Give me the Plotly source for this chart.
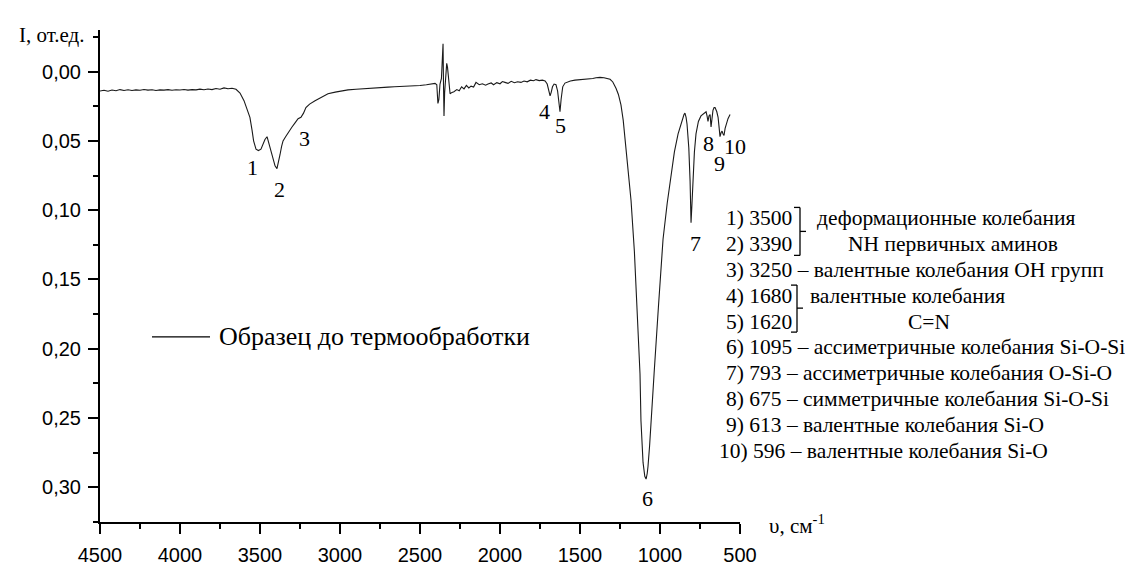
import plotly.graph_objects as go

# ---------------- data ----------------
wavenumber = [
    4500, 4475, 4450, 4425, 4400, 4375, 4350, 4325, 4300, 4275, 4250, 4225, 4200, 4175, 4150,
    4125, 4100, 4075, 4050, 4025, 4000, 3975, 3950, 3925, 3900, 3875, 3850, 3825, 3800, 3775,
    3750, 3725, 3700, 3675, 3650,
    3625, 3600, 3580, 3563, 3550, 3540, 3525, 3510, 3494, 3480, 3469, 3456, 3443, 3431, 3418,
    3406, 3394, 3385, 3375, 3365, 3356, 3340, 3325, 3300, 3281, 3262, 3244, 3228, 3213, 3190,
    3156, 3120, 3075, 3030, 2990, 2950, 2900, 2860, 2820, 2781, 2740, 2700, 2660, 2619, 2580,
    2540, 2500, 2460, 2425, 2406, 2395, 2388, 2382, 2375, 2366, 2360, 2356, 2353, 2350, 2346,
    2340, 2333, 2328, 2320, 2312, 2300, 2288, 2270, 2255, 2240, 2225, 2210, 2195, 2181, 2165,
    2150, 2130, 2110, 2090, 2075, 2055, 2040, 2020, 2000, 1985, 1969, 1950, 1930, 1910, 1890,
    1869, 1850, 1830, 1810, 1790, 1775, 1755, 1735, 1718, 1705, 1695, 1687, 1680, 1672, 1662,
    1650, 1640, 1630, 1625, 1618, 1608, 1594, 1580, 1560, 1531, 1500, 1475, 1450, 1420, 1400,
    1375, 1350, 1330, 1312, 1295, 1285, 1275, 1260, 1244, 1230, 1219, 1200, 1181, 1160, 1140,
    1125, 1119, 1106, 1095, 1087, 1080, 1075, 1065, 1056, 1037, 1010, 981, 955, 931, 910,
    887, 865, 850, 844, 837, 831, 820, 812, 806, 800, 794, 785, 775, 760, 744,
    725, 712, 706, 700, 694, 687, 681, 675, 669, 662, 656, 645, 637, 630, 625,
    618, 612, 606, 600, 593, 587, 575, 562,
]
intensity = [
    0.0140, 0.0135, 0.0142, 0.0133, 0.0138, 0.0130, 0.0136, 0.0131, 0.0137, 0.0132, 0.0135, 0.0129, 0.0134, 0.0131, 0.0136,
    0.0132, 0.0134, 0.0130, 0.0135, 0.0131, 0.0133, 0.0129, 0.0134, 0.0130, 0.0132, 0.0127, 0.0131, 0.0126, 0.0130, 0.0122,
    0.0127, 0.0118, 0.0124, 0.0120, 0.0128,
    0.0155, 0.0210, 0.0270, 0.0330, 0.0420, 0.0500, 0.0560, 0.0570, 0.0560, 0.0520, 0.0490, 0.0470, 0.0520, 0.0570, 0.0630,
    0.0680, 0.0700, 0.0660, 0.0600, 0.0540, 0.0500, 0.0470, 0.0440, 0.0400, 0.0370, 0.0340, 0.0330, 0.0300, 0.0260, 0.0235,
    0.0210, 0.0185, 0.0160, 0.0148, 0.0140, 0.0132, 0.0128, 0.0124, 0.0121, 0.0118, 0.0115, 0.0112, 0.0110, 0.0108, 0.0106,
    0.0103, 0.0100, 0.0095, 0.0090, 0.0085, 0.0095, 0.0230, 0.0200, 0.0090, 0.0050, -0.0150, -0.0200, 0.0100, 0.0320, 0.0150,
    0.0040, -0.0060, -0.0030, 0.0080, 0.0160, 0.0150, 0.0145, 0.0130, 0.0138, 0.0110, 0.0125, 0.0100, 0.0118, 0.0105, 0.0112,
    0.0078, 0.0095, 0.0088, 0.0098, 0.0090, 0.0082, 0.0095, 0.0080, 0.0088, 0.0072, 0.0078, 0.0085, 0.0070, 0.0080, 0.0074,
    0.0078, 0.0068, 0.0074, 0.0062, 0.0066, 0.0058, 0.0065, 0.0062, 0.0068, 0.0090, 0.0140, 0.0175, 0.0150, 0.0110, 0.0090,
    0.0095, 0.0140, 0.0250, 0.0290, 0.0200, 0.0110, 0.0083, 0.0075, 0.0068, 0.0062, 0.0060, 0.0058, 0.0055, 0.0050, 0.0045,
    0.0042, 0.0045, 0.0050, 0.0056, 0.0075, 0.0095, 0.0120, 0.0165, 0.0240, 0.0350, 0.0470, 0.0700, 0.0930, 0.1300, 0.1800,
    0.2180, 0.2520, 0.2820, 0.2920, 0.2940, 0.2900, 0.2850, 0.2700, 0.2520, 0.2180, 0.1700, 0.1210, 0.0950, 0.0750, 0.0580,
    0.0450, 0.0360, 0.0310, 0.0300, 0.0330, 0.0380, 0.0550, 0.0790, 0.1090, 0.0950, 0.0790, 0.0580, 0.0450, 0.0360, 0.0320,
    0.0300, 0.0290, 0.0320, 0.0360, 0.0320, 0.0310, 0.0400, 0.0340, 0.0280, 0.0260, 0.0260, 0.0290, 0.0330, 0.0410, 0.0470,
    0.0440, 0.0430, 0.0450, 0.0460, 0.0410, 0.0380, 0.0340, 0.0310,
]

series_name = "Образец до термообработки"

y_ticks = [0.00, 0.05, 0.10, 0.15, 0.20, 0.25, 0.30]
x_ticks = [4500, 4000, 3500, 3000, 2500, 2000, 1500, 1000, 500]

peak_labels = ["1", "2", "3", "4", "5", "6", "7", "8", "9", "10"]
peak_label_x = [3544, 3381, 3225, 1725, 1619, 1081, 781, 694, 631, 531]
peak_label_y = [0.069, 0.085, 0.048, 0.029, 0.0387, 0.308, 0.124, 0.052, 0.066, 0.054]

assign_left = [
    "1) 3500", "2) 3390", "3) 3250 – валентные колебания ОН групп", "4) 1680", "5) 1620",
    "6) 1095 – ассиметричные колебания Si-O-Si", "7) 793 – ассиметричные колебания O-Si-O",
    "8) 675 – симметричные колебания Si-O-Si", "9) 613 – валентные колебания Si-O",
    "10) 596 – валентные колебания Si-O",
]
group1_text = ["деформационные колебания", "NH первичных аминов"]
group2_text = ["валентные колебания", "C=N"]

# ---------------- layout helpers (pixel -> paper) ----------------
W, H = 1133, 570
L, R, T, B = 92, 732, 22, 535


def px(x):
    return (x - L) / (R - L)


def py(y):
    return (B - y) / (B - T)


SERIF = "Liberation Serif, Times New Roman, serif"
SANS = "Liberation Sans, Arial, sans-serif"
BLOCK_SIZE = 21.5

fig = go.Figure()
fig.add_trace(go.Scatter(
    x=wavenumber, y=intensity, mode="lines", name=series_name,
    line=dict(color="#1a1a1a", width=1.1), showlegend=False,
))

annotations = []
for lab, lx, ly in zip(peak_labels, peak_label_x, peak_label_y):
    annotations.append(dict(x=lx, y=ly, xref="x", yref="y", text=lab, showarrow=False,
                            font=dict(family=SERIF, size=22, color="black"),
                            xanchor="center", yanchor="middle"))

# assignment block
line_y = [218, 245, 272, 299, 326, 353, 380, 407, 434, 461]
line_x = [717, 717, 717, 717, 717, 717, 717, 717, 717, 710]
for txt, lx, ly in zip(assign_left, line_x, line_y):
    annotations.append(dict(x=px(lx), y=py(ly), xref="paper", yref="paper", text=txt,
                            showarrow=False, xanchor="left", yanchor="middle", borderpad=0,
                            font=dict(family=SERIF, size=BLOCK_SIZE, color="black")))
annotations.append(dict(x=px(808), y=py(218), xref="paper", yref="paper", text=group1_text[0],
                        showarrow=False, xanchor="left", yanchor="middle", borderpad=0,
                        font=dict(family=SERIF, size=BLOCK_SIZE, color="black")))
annotations.append(dict(x=px(945), y=py(245), xref="paper", yref="paper", text=group1_text[1],
                        showarrow=False, xanchor="center", yanchor="middle", borderpad=0,
                        font=dict(family=SERIF, size=BLOCK_SIZE, color="black")))
annotations.append(dict(x=px(801), y=py(299), xref="paper", yref="paper", text=group2_text[0],
                        showarrow=False, xanchor="left", yanchor="middle", borderpad=0,
                        font=dict(family=SERIF, size=BLOCK_SIZE, color="black")))
annotations.append(dict(x=px(921), y=py(326), xref="paper", yref="paper", text=group2_text[1],
                        showarrow=False, xanchor="center", yanchor="middle", borderpad=0,
                        font=dict(family=SERIF, size=BLOCK_SIZE, color="black")))

# legend text
annotations.append(dict(x=px(210), y=py(342), xref="paper", yref="paper", text=series_name,
                        showarrow=False, xanchor="left", yanchor="middle", borderpad=0,
                        font=dict(family=SERIF, size=26, color="black")))
# axis titles
annotations.append(dict(x=px(10), y=py(27), xref="paper", yref="paper", text="I, от.ед.",
                        showarrow=False, xanchor="left", yanchor="middle", borderpad=0,
                        font=dict(family=SERIF, size=21, color="black")))
annotations.append(dict(x=px(760), y=py(538), xref="paper", yref="paper",
                        text="υ, см<sup>-1</sup>",
                        showarrow=False, xanchor="left", yanchor="middle", borderpad=0,
                        font=dict(family=SERIF, size=21, color="black")))

shapes = []


def seg(x0, y0, x1, y1, w=1.3):
    shapes.append(dict(type="line", xref="paper", yref="paper",
                       x0=px(x0), y0=py(y0), x1=px(x1), y1=py(y1),
                       line=dict(color="black", width=w)))


# legend sample line
seg(144, 342, 202, 342, 1.2)
# bracket for 1/2
seg(792, 207, 792, 257)
seg(786, 207, 792, 207)
seg(786, 257, 792, 257)
seg(792, 232, 798, 232)
# bracket for 4/5
seg(789, 288, 789, 337)
seg(783, 288, 789, 288)
seg(783, 337, 789, 337)
seg(789, 312, 795, 312)

fig.update_layout(
    width=W, height=H,
    margin=dict(l=L, r=W - R, t=T, b=H - B, pad=0),
    paper_bgcolor="white", plot_bgcolor="white",
    separators=", ",
    annotations=annotations,
    shapes=shapes,
    font=dict(family=SANS, size=20, color="black"),
)
fig.update_xaxes(
    range=[4500, 500], tickmode="array", tickvals=x_ticks,
    ticks="outside", ticklen=10, tickwidth=1.6, tickcolor="black",
    ticklabelstandoff=4,
    showline=True, linecolor="black", linewidth=2, mirror=False,
    showgrid=False, zeroline=False,
    tickfont=dict(family=SANS, size=20, color="black"),
    minor=dict(ticks="outside", ticklen=5, tickwidth=1.6, tickcolor="black", dtick=250, tick0=500, showgrid=False),
)
fig.update_yaxes(
    range=[0.325, -0.03], tickmode="array", tickvals=y_ticks, tickformat=".2f",
    ticks="outside", ticklen=10, tickwidth=1.6, tickcolor="black",
    ticklabelstandoff=3,
    showline=True, linecolor="black", linewidth=2, mirror=False,
    showgrid=False, zeroline=False,
    tickfont=dict(family=SANS, size=20, color="black"),
    minor=dict(ticks="outside", ticklen=5, tickwidth=1.6, tickcolor="black", dtick=0.025, tick0=0, showgrid=False),
)

fig.write_html("out.html")
